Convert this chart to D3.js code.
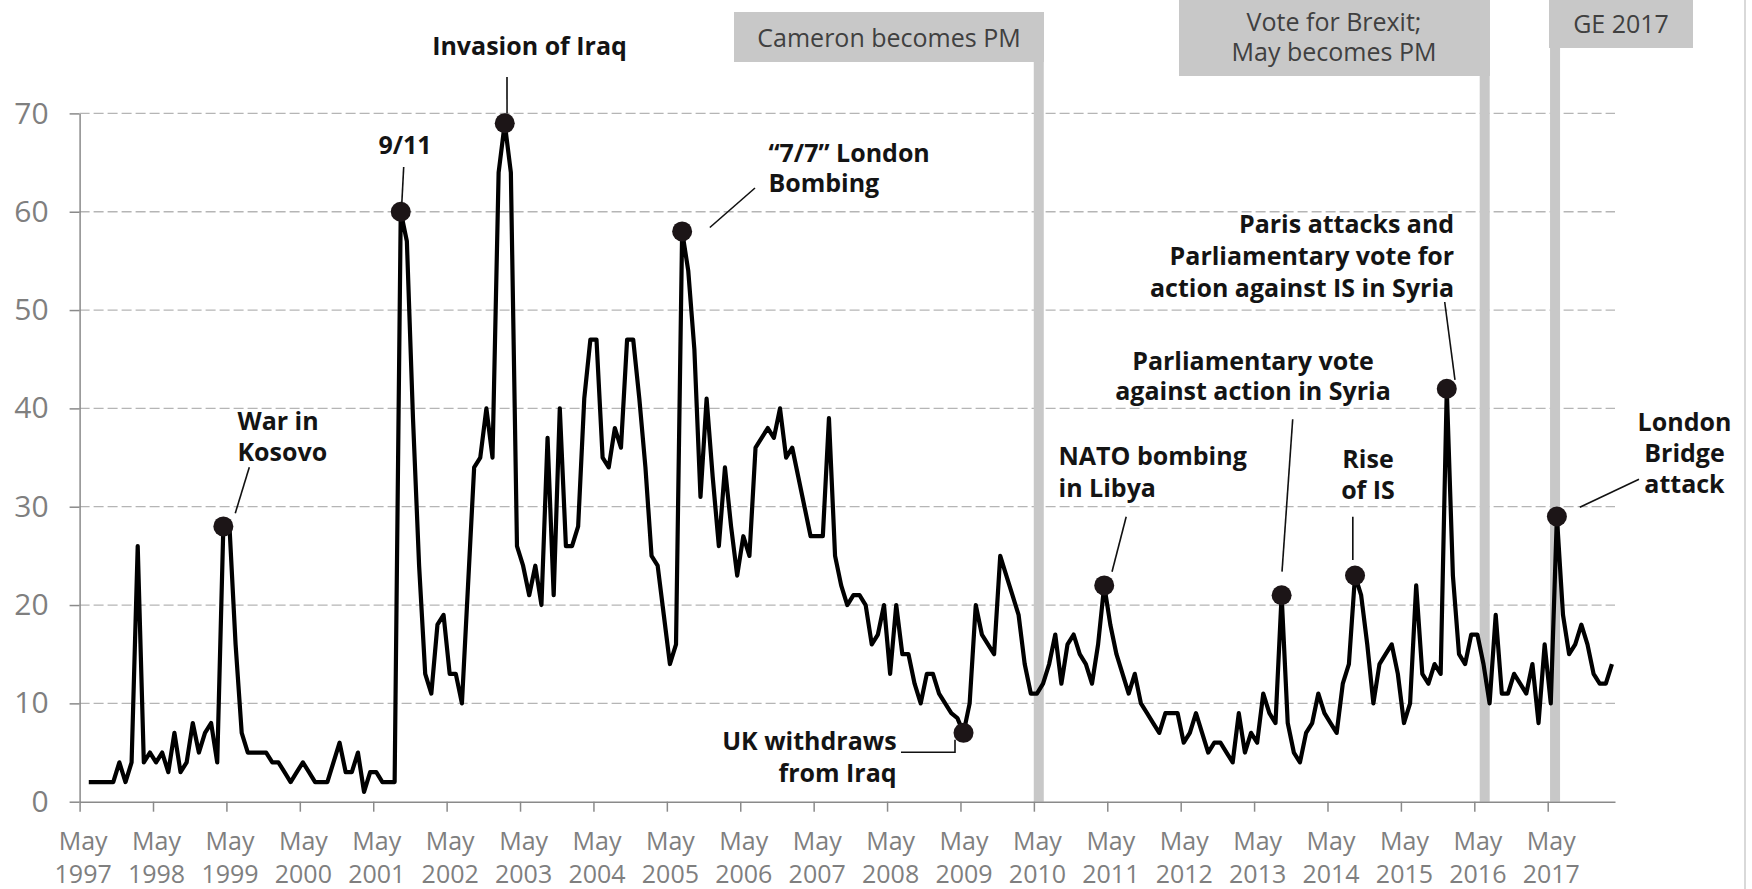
<!DOCTYPE html>
<html>
<head>
<meta charset="utf-8">
<script src="https://cdn.jsdelivr.net/npm/d3@7"></script>
<style>
  html, body { margin: 0; padding: 0; background: #fff; }
  svg { display: block; font-family: "Open Sans", "Noto Sans", sans-serif; }
</style>
</head>
<body>
<div id="chart"></div>
<script>
// months are counted from May 1997 (index 0); the series starts in June 1997
const firstMonth = 1;
const values = [
  2, 2, 2, 2, 2, 4, 2, 4, 26, 4, 5, 4, 5, 3, 7, 3, 4, 8, 5, 7,
  8, 4, 28, 28, 16, 7, 5, 5, 5, 5, 4, 4, 3, 2, 3, 4, 3, 2, 2, 2,
  4, 6, 3, 3, 5, 1, 3, 3, 2, 2, 2, 60, 57, 39, 24, 13, 11, 18, 19, 13,
  13, 10, 22, 34, 35, 40, 35, 64, 69, 64, 26, 24, 21, 24, 20, 37, 21, 40, 26, 26,
  28, 41, 47, 47, 35, 34, 38, 36, 47, 47, 41, 34, 25, 24, 19, 14, 16, 58, 54, 46,
  31, 41, 33, 26, 34, 28, 23, 27, 25, 36, 37, 38, 37, 40, 35, 36, 33, 30, 27, 27,
  27, 39, 25, 22, 20, 21, 21, 20, 16, 17, 20, 13, 20, 15, 15, 12, 10, 13, 13, 11,
  10, 9, 8.5, 7, 10, 20, 17, 16, 15, 25, 23, 21, 19, 14, 11, 11, 12, 14, 17, 12,
  16, 17, 15, 14, 12, 16, 22, 18, 15, 13, 11, 13, 10, 9, 8, 7, 9, 9, 9, 6,
  7, 9, 7, 5, 6, 6, 5, 4, 9, 5, 7, 6, 11, 9, 8, 21, 8, 5, 4, 7,
  8, 11, 9, 8, 7, 12, 14, 23, 21, 16, 10, 14, 15, 16, 13, 8, 10, 22, 13, 12,
  14, 13, 42, 23, 15, 14, 17, 17, 14, 10, 19, 11, 11, 13, 12, 11, 14, 8, 16, 10,
  29, 19, 15, 16, 18, 16, 13, 12, 12, 14
];
const tickYears = [1997, 1998, 1999, 2000, 2001, 2002, 2003, 2004, 2005, 2006, 2007,
  2008, 2009, 2010, 2011, 2012, 2013, 2014, 2015, 2016, 2017];
const tickMonthName = "May";
const yTicks = [0, 10, 20, 30, 40, 50, 60, 70];

const eventLabels = [["Cameron becomes PM"], ["Vote for Brexit;", "May becomes PM"], ["GE 2017"]];
const eventMonths = [156.8, 229.7, 241.2];

const annotationMonths = [23, 52, 69, 98, 144, 167, 196, 208, 223, 241];
const annotationTexts = [
  ["War in", "Kosovo"],
  ["9/11"],
  ["Invasion of Iraq"],
  ["\u201C7/7\u201D London", "Bombing"],
  ["UK withdraws", "from Iraq"],
  ["NATO bombing", "in Libya"],
  ["Parliamentary vote", "against action in Syria"],
  ["Rise", "of IS"],
  ["Paris attacks and", "Parliamentary vote for", "action against IS in Syria"],
  ["London", "Bridge", "attack"]
];

// layout (pixels)
const width = 1752, height = 889;
const plot = { left: 79.6, right: 1615, top: 113.4, bottom: 801.7 };

const eventBoxes = [
  { x0: 734, x1: 1044, y0: 12, y1: 62, tx: 889, lines: [46.5] },
  { x0: 1179, x1: 1490, y0: 0, y1: 76, tx: 1334, lines: [31, 61] },
  { x0: 1549, x1: 1693, y0: 0, y1: 48, tx: 1621, lines: [33] }
];

const annotationLayout = [
  { anchor: "start", x: 237.5, lines: [430, 461], from: [249.3, 467.3], to: [11.9, -13.1] },
  { anchor: "middle", x: 405, lines: [154], from: [403.7, 167], to: [1.1, -9] },
  { anchor: "middle", x: 529.5, lines: [55], from: [507, 77], to: [2.3, -10] },
  { anchor: "start", x: 768.4, lines: [161.7, 191.7], from: [755, 188], to: [27.7, -3.9] },
  { anchor: "end", x: 896.6, lines: [750, 781.7], elbow: [[901, 752.3], [955, 752.3]], to: [-8.5, 7] },
  { anchor: "start", x: 1058.5, lines: [465, 497], from: [1126.2, 516.7], to: [7.8, -13.7] },
  { anchor: "middle", x: 1253, lines: [370, 400], from: [1292.7, 419.3], to: [0.4, -23.6] },
  { anchor: "middle", x: 1368, lines: [468.3, 499.3], from: [1352.8, 516.7], to: [-2.2, -15.6] },
  { anchor: "end", x: 1454.2, lines: [233, 265, 297], from: [1444.7, 302], to: [8.2, -8.8] },
  { anchor: "middle", x: 1684.5, lines: [431, 462, 493], from: [1639, 479.3], to: [22.9, -9.3] }
];

const svg = d3.select("#chart").append("svg")
  .attr("width", width)
  .attr("height", height)
  .attr("viewBox", `0 0 ${width} ${height}`);

svg.append("rect").attr("width", width).attr("height", height).attr("fill", "#fff");

const x = d3.scaleLinear().domain([0, 251]).range([plot.left, plot.right]);
const y = d3.scaleLinear().domain([0, 70]).range([plot.bottom, plot.top]);

const series = values.map((v, i) => ({ month: firstMonth + i, value: v }));

// gridlines
svg.append("g")
  .attr("class", "gridlines")
  .selectAll("line")
  .data(yTicks.filter(d => d > 0))
  .join("line")
  .attr("x1", x(0))
  .attr("x2", x(251))
  .attr("y1", d => y(d))
  .attr("y2", d => y(d))
  .attr("stroke", "#b5b5b5")
  .attr("stroke-width", 1.3)
  .attr("stroke-dasharray", "10,4");

// event bars and boxes
const ev = svg.append("g").attr("class", "events");
ev.selectAll("rect.bar")
  .data(eventMonths)
  .join("rect")
  .attr("class", "bar")
  .attr("x", d => x(d) - 5)
  .attr("width", 10)
  .attr("y", (d, i) => eventBoxes[i].y1 - 1)
  .attr("height", (d, i) => y(0) - eventBoxes[i].y1 + 1)
  .attr("fill", "#c8c8c8");

eventBoxes.forEach((b, i) => {
  ev.append("rect")
    .attr("x", b.x0).attr("y", b.y0)
    .attr("width", b.x1 - b.x0).attr("height", b.y1 - b.y0)
    .attr("fill", "#c8c8c8");
  const t = ev.append("text")
    .attr("text-anchor", "middle")
    .attr("fill", "#404040")
    .style("font-size", "25px");
  eventLabels[i].forEach((line, j) => {
    t.append("tspan").attr("x", b.tx).attr("y", b.lines[j]).text(line);
  });
});

// axes
const yAxis = d3.axisLeft(y).tickValues(yTicks).tickSize(10).tickSizeOuter(0).tickPadding(21);
const gy = svg.append("g")
  .attr("class", "y-axis")
  .attr("transform", `translate(${plot.left},0)`)
  .call(yAxis);
gy.select(".domain").attr("stroke", "#8a8a8a").attr("stroke-width", 1.5);
gy.selectAll(".tick line").attr("stroke", "#8a8a8a").attr("stroke-width", 1.5);
gy.selectAll(".tick text")
  .attr("fill", "#7f7f7f")
  .style("font-size", "30px")
  .style("font-family", "'Open Sans', sans-serif");

const xAxis = d3.axisBottom(x)
  .tickValues(tickYears.map(yr => (yr - 1997) * 12))
  .tickSize(10)
  .tickSizeOuter(0)
  .tickFormat("");
const gx = svg.append("g")
  .attr("class", "x-axis")
  .attr("transform", `translate(0,${y(0)})`)
  .call(xAxis);
gx.select(".domain").attr("stroke", "#8a8a8a").attr("stroke-width", 1.5);
gx.selectAll(".tick line").attr("stroke", "#8a8a8a").attr("stroke-width", 1.5);
gx.selectAll(".tick text")
  .attr("dy", null)
  .attr("y", null)
  .attr("fill", "#7f7f7f")
  .style("font-size", "25px")
  .style("font-family", "'Open Sans', sans-serif")
  .each(function(d, i) {
    const t = d3.select(this);
    const cx = x(d + 0.5) - x(d);
    t.append("tspan").attr("x", cx).attr("y", 48.5).text(tickMonthName);
    t.append("tspan").attr("x", cx).attr("y", 81).text(tickYears[i]);
  });

// line
const line = d3.line()
  .x(d => x(d.month + 0.5))
  .y(d => y(d.value));

svg.append("path")
  .datum(series)
  .attr("fill", "none")
  .attr("stroke", "#000")
  .attr("stroke-width", 4.2)
  .attr("stroke-linejoin", "round")
  .attr("d", line);

// annotated points
const annotated = annotationMonths.map(m => series.find(d => d.month === m));

svg.append("g")
  .attr("class", "dots")
  .selectAll("circle")
  .data(annotated)
  .join("circle")
  .attr("cx", d => x(d.month + 0.5))
  .attr("cy", d => y(d.value))
  .attr("r", 10)
  .attr("fill", "#1c1517");

// annotation labels and leaders
const ann = svg.append("g").attr("class", "annotations");
annotated.forEach((d, i) => {
  const L = annotationLayout[i];
  const px = x(d.month + 0.5), py = y(d.value);
  const end = [px + L.to[0], py + L.to[1]];
  const pts = L.elbow ? [...L.elbow, [L.elbow[1][0], end[1]]] : [L.from, end];
  ann.append("path")
    .attr("d", d3.line()(pts))
    .attr("fill", "none")
    .attr("stroke", "#111")
    .attr("stroke-width", 1.6);
  const t = ann.append("text")
    .attr("text-anchor", L.anchor)
    .attr("fill", "#141414")
    .style("font-size", "25px")
    .style("font-weight", 700);
  annotationTexts[i].forEach((s, j) => {
    t.append("tspan").attr("x", L.x).attr("y", L.lines[j]).text(s);
  });
});

// chart frame edge at the right
svg.append("line")
  .attr("x1", 1745).attr("x2", 1745)
  .attr("y1", 0).attr("y2", height)
  .attr("stroke", "#d9d9d9")
  .attr("stroke-width", 2);
</script>
</body>
</html>
